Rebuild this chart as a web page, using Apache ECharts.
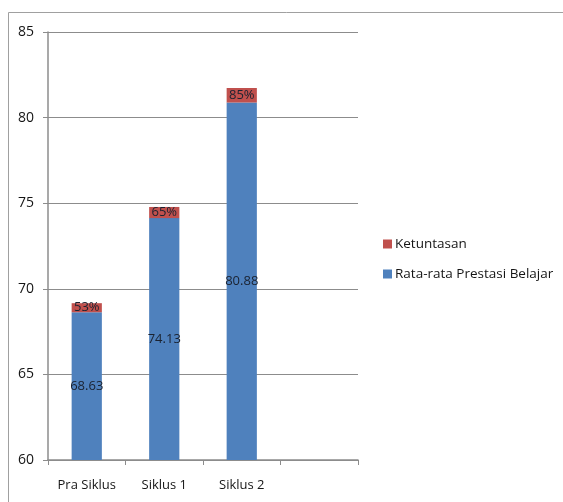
<!DOCTYPE html>
<html>
<head>
<meta charset="utf-8">
<script src="https://cdn.jsdelivr.net/npm/echarts@6/dist/echarts.min.js"></script>
<style>
  html, body { margin: 0; padding: 0; background: #fff; }
  #chart { width: 563px; height: 502px; }
</style>
</head>
<body>
<div id="chart"></div>
<script>
// Categories (the fourth slot is an empty column on the axis)
const categories = ['Pra Siklus', 'Siklus 1', 'Siklus 2', ''];
// Average learning achievement per cycle
const rataRata = [68.63, 74.13, 80.88, null];
// Mastery share per cycle (fraction, shown as percent)
const ketuntasan = [0.53, 0.65, 0.85, null];
// Value axis tick range
const yMin = 60, yMax = 85, yStep = 5;

const FONT = '"Open Sans", "Noto Sans", sans-serif';
const TEXT = '#151515';
const chart = echarts.init(document.getElementById('chart'), null, { renderer: 'canvas' });

chart.setOption({
  backgroundColor: '#ffffff',
  animation: false,
  graphic: [{
    type: 'rect',
    shape: { x: 8.5, y: 12.5, width: 600, height: 600 },
    style: { fill: 'none', stroke: '#a0a0a0', lineWidth: 1 },
    z: -1
  }],
  legend: {
    orient: 'vertical',
    left: 378,
    top: 232,
    itemGap: 16,
    itemWidth: 9,
    itemHeight: 9,
    icon: 'rect',
    textStyle: { fontFamily: FONT, fontSize: 13.5, color: TEXT, padding: [0, 0, 0, -2] },
    data: ['Ketuntasan', 'Rata-rata Prestasi Belajar']
  },
  grid: { left: 48, right: 205, top: 32, bottom: 42, containLabel: false },
  xAxis: {
    type: 'category',
    data: categories,
    axisLine: { lineStyle: { color: '#8c8c8c', width: 1.5 } },
    axisTick: { show: true, interval: 0, alignWithLabel: false, length: 5, lineStyle: { color: '#8c8c8c' } },
    axisLabel: { interval: 0, hideOverlap: false, fontFamily: FONT, fontSize: 13, color: TEXT, margin: 19 }
  },
  yAxis: {
    type: 'value',
    min: yMin, max: yMax, interval: yStep,
    axisLine: { show: true, lineStyle: { color: '#8c8c8c', width: 1.5 } },
    axisTick: { show: true, length: 5, lineStyle: { color: '#8c8c8c' } },
    splitLine: { lineStyle: { color: '#8c8c8c', width: 1.2 } },
    axisLabel: { fontFamily: FONT, fontSize: 14, color: TEXT, margin: 14 }
  },
  series: [
    {
      name: 'Rata-rata Prestasi Belajar',
      type: 'bar',
      stack: 'total',
      barWidth: '39%',
      data: rataRata,
      itemStyle: { color: '#4f81bd' },
      label: {
        show: true, position: 'inside',
        fontFamily: FONT, fontSize: 13, color: '#1a2230',
        formatter: p => p.value == null ? '' : p.value.toFixed(2)
      }
    },
    {
      name: 'Ketuntasan',
      type: 'bar',
      stack: 'total',
      barWidth: '39%',
      data: ketuntasan,
      itemStyle: { color: '#c0504d' },
      label: {
        show: true, position: 'inside',
        fontFamily: FONT, fontSize: 13, color: '#1a2230',
        formatter: p => p.value == null ? '' : Math.round(p.value * 100) + '%'
      }
    }
  ]
});
</script>
</body>
</html>
